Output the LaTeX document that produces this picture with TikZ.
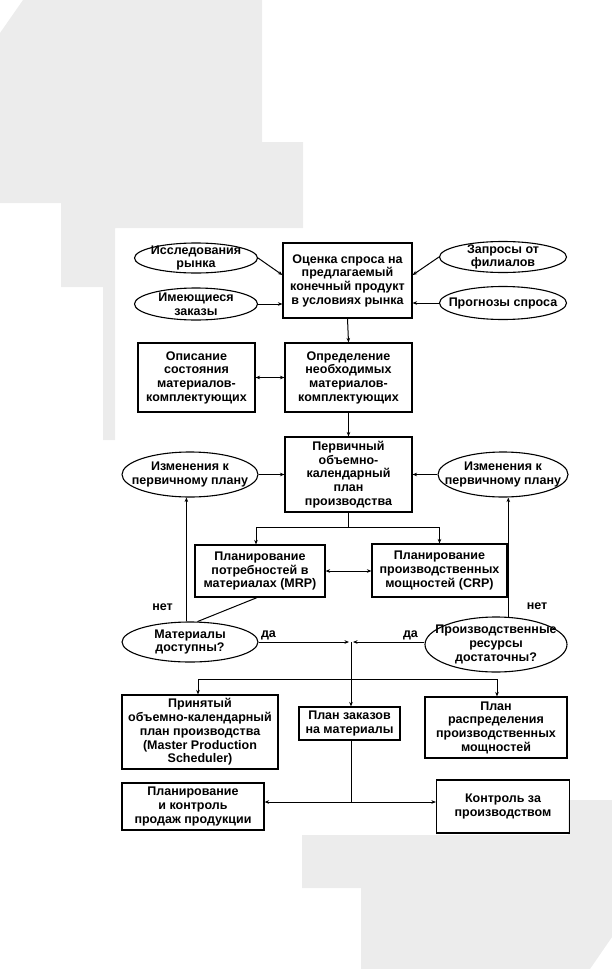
\documentclass[tikz,border=0pt]{standalone}
\usepackage{fontspec}
\setmainfont{Liberation Sans}
\usetikzlibrary{arrows.meta,shapes.geometric,calc}
\definecolor{bggray}{RGB}{236,236,236}
\newcommand\txtfont{\bfseries\fontsize{12.5}{13.7}\selectfont}
\tikzset{
  box/.style={draw, line width=1.2pt, rectangle, inner sep=0pt, align=center, font=\txtfont},
  oval/.style={draw, line width=1.1pt, ellipse, inner sep=0pt},
  txt/.style={inner sep=0pt, align=center, font=\txtfont},
  lbl/.style={inner sep=0pt, font=\txtfont},
  ln/.style={line width=1pt},
  arr/.style={line width=1pt, -{Stealth[length=4.5pt,width=3.6pt]}},
  darr/.style={line width=1pt, {Stealth[length=4.5pt,width=3.6pt]}-{Stealth[length=4.5pt,width=3.6pt]}},
}
\begin{document}
\begin{tikzpicture}[x=1pt,y=-1pt]
\useasboundingbox (0,0) rectangle (612,969);
% background decoration
\fill[bggray] (23,0) -- (262,0) -- (262,142) -- (303,142) -- (303,228) -- (115,228) -- (115,440) -- (103,440) -- (103,287) -- (61,287) -- (61,203) -- (0,203) -- (0,33) -- cycle;
\fill[bggray] (568,800) -- (612,800) -- (612,937) -- (590,969) -- (361,969) -- (361,888) -- (302,888) -- (302,835) -- (568,835) -- cycle;

% top row
\node[oval, minimum width=123pt, minimum height=30pt] (isr) at (196,258) {};
\node[txt] at (isr) {Исследования\\рынка};
\node[oval, minimum width=123pt, minimum height=32pt] (imz) at (196,304) {};
\node[txt] at (imz) {Имеющиеся\\заказы};
\node[oval, minimum width=127pt, minimum height=31pt] (zap) at (503,257) {};
\node[txt] at (zap) {Запросы от\\филиалов};
\node[oval, minimum width=127pt, minimum height=33pt] (prog) at (503,303) {};
\node[txt] at (prog) {Прогнозы спроса};
\node[box, minimum width=129pt, minimum height=75pt] (ocen) at (347.5,280.5) {Оценка спроса на\\предлагаемый\\конечный продукт\\в условиях рынка};

% second row
\node[box, minimum width=117pt, minimum height=69pt] (opis) at (196.5,377.5) {Описание\\состояния\\материалов-\\комплектующих};
\node[box, minimum width=127pt, minimum height=69pt] (opr) at (348.5,377.5) {Определение\\необходимых\\материалов-\\комплектующих};

% third row
\node[box, minimum width=127pt, minimum height=75pt] (perv) at (348.5,474.5) {Первичный\\объемно-\\календарный\\план\\производства};
\node[oval, minimum width=136pt, minimum height=45pt] (izmL) at (190,474.5) {};
\node[txt] at (izmL) {Изменения к\\первичному плану};
\node[oval, minimum width=130pt, minimum height=45pt] (izmR) at (503,474.5) {};
\node[txt] at (izmR) {Изменения к\\первичному плану};

% MRP / CRP
\node[box, minimum width=130pt, minimum height=52pt] (mrp) at (260,571) {Планирование\\потребностей в\\материалах (MRP)};
\node[box, minimum width=135pt, minimum height=53pt] (crp) at (439.5,570.5) {Планирование\\производственных\\мощностей (CRP)};

% decisions
\node[oval, minimum width=136pt, minimum height=40pt] (mat) at (190,642) {};
\node[txt] at (mat) {Материалы\\доступны?};
\node[oval, minimum width=142pt, minimum height=55pt] (pr) at (496,644.5) {};
\node[txt] at (pr) {Производственные\\ресурсы\\достаточны?};

% outputs
\node[box, minimum width=156pt, minimum height=74pt] (mps) at (200,732) {Принятый\\объемно-календарный\\план производства\\(Master Production\\Scheduler)};
\node[box, minimum width=101pt, minimum height=33pt] (pzm) at (349.5,723.5) {План заказов\\на материалы};
\node[box, minimum width=142pt, minimum height=61pt] (prm) at (496,727.5) {План\\распределения\\производственных\\мощностей};
\node[box, minimum width=142pt, minimum height=47pt] (pkp) at (193,806.5) {Планирование\\и контроль\\продаж продукции};
\node[box, minimum width=133pt, minimum height=53pt] (kon) at (503,806.5) {Контроль за\\производством};

% labels
\node[lbl] (net1) at (162.5,607.5) {нет};
\node[lbl] (net2) at (537,606) {нет};
\node[lbl] (da1) at (268.5,635) {да};
\node[lbl] (da2) at (410.5,635) {да};

% coordinates
\coordinate (b1) at ($(perv.south)+(0,15)$);
\coordinate (J) at (351,642);
\coordinate (B) at (351,679);
\coordinate (C) at (351,802);

% connectors
\draw[arr] (isr.east) -- ([yshift=5.5pt]ocen.west);
\draw[arr] (zap.west) -- ([yshift=5.5pt]ocen.east);
\draw[arr] (imz.east) -- (imz.east -| ocen.west);
\draw[arr] (prog.west) -- (prog.west -| ocen.east);
\draw[arr] (ocen.south) -- (opr.north);
\draw[darr] (opis.east) -- (opr.west);
\draw[arr] (opr.south) -- (perv.north);
\draw[arr] (izmL.east) -- (perv.west);
\draw[arr] (izmR.west) -- (perv.east);
\draw[ln] (perv.south) -- (b1);
\draw[arr] (b1) -| ([xshift=-4pt]mrp.north);
\draw[arr] (b1) -| (crp.north);
\draw[darr] (mrp.east) -- (mrp.east -| crp.west);
\draw[ln] ([xshift=-3pt]mrp.south) -- (mat.70);
\draw[arr] (mat.100) -- (mat.100 |- izmL.south);
\draw[arr] (pr.66) -- (pr.66 |- izmR.south);
\draw[arr] (mat.east |- J) -- ([xshift=-2pt]J);
\draw[arr] (pr.west |- J) -- ([xshift=2pt]J);
\draw[arr] (J) -- (J |- pzm.north);
\draw[arr] (B) -| ([xshift=-2pt]mps.north);
\draw[arr] (B) -| ([xshift=1pt]prm.north);
\draw[ln] (pzm.south -| C) -- (C);
\draw[arr] (C) -- (C -| pkp.east);
\draw[arr] (C) -- (C -| kon.west);
\end{tikzpicture}
\end{document}
